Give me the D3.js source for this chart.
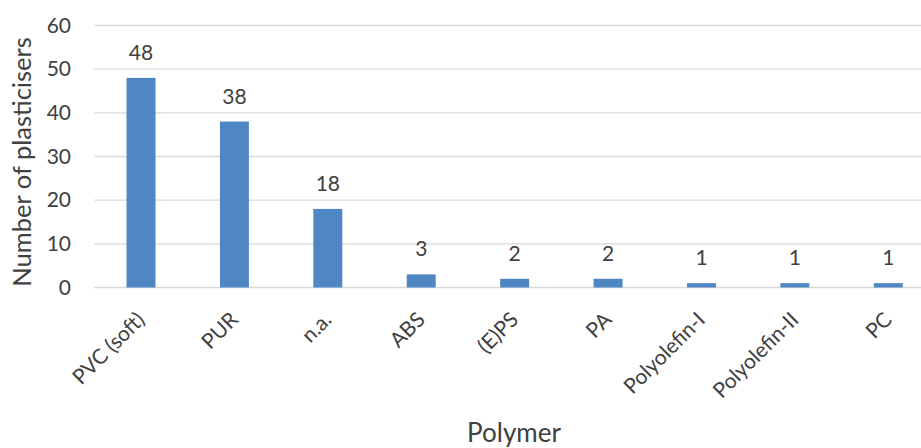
<!DOCTYPE html>
<html>
<head>
<meta charset="utf-8">
<script src="https://cdn.jsdelivr.net/npm/d3@7"></script>
<style>
	body { margin: 0; background: #fff; }
	svg text { font-family: Lato, "Open Sans", sans-serif; fill: #404040; }
</style>
</head>
<body>
<svg id="chart" width="921" height="448"></svg>
<script>
var polymers = ['PVC (soft)', 'PUR', 'n.a.', 'ABS', '(E)PS', 'PA', 'Polyolefin-I', 'Polyolefin-II', 'PC'];
var plasticisers = [48, 38, 18, 3, 2, 2, 1, 1, 1];
var yTicks = [0, 10, 20, 30, 40, 50, 60];

var svg = d3.select('#chart');

// plot area runs past the right edge of the picture (it is cropped there)
var x = d3.scaleBand()
	.domain(polymers)
	.range([94.3, 935])
	.paddingInner(0.69)
	.paddingOuter(0.345);

var y = d3.scaleLinear()
	.domain([0, 60])
	.range([287.5, 25.5]);

// gridlines
svg.append('g')
	.selectAll('line')
	.data(yTicks)
	.enter().append('line')
	.attr('x1', 94.3)
	.attr('x2', 935)
	.attr('y1', function(d){ return y(d); })
	.attr('y2', function(d){ return y(d); })
	.attr('stroke', '#d9d9d9')
	.attr('stroke-width', 1.3);

// y tick labels
var yAxis = svg.append('g')
	.attr('transform', 'translate(94,0)')
	.call(d3.axisLeft(y).tickValues(yTicks).tickSize(0).tickPadding(23));
yAxis.select('.domain').remove();
yAxis.selectAll('text')
	.style('font-size', '21px')
	.attr('fill', '#404040');

// bars
svg.append('g')
	.selectAll('rect')
	.data(plasticisers)
	.enter().append('rect')
	.attr('x', function(d, i){ return x(polymers[i]); })
	.attr('width', x.bandwidth())
	.attr('y', function(d){ return y(d); })
	.attr('height', function(d){ return y(0) - y(d); })
	.attr('fill', '#4F87C4');

// data labels
svg.append('g')
	.selectAll('text')
	.data(plasticisers)
	.enter().append('text')
	.attr('x', function(d, i){ return x(polymers[i]) + x.bandwidth() / 2; })
	.attr('y', function(d){ return y(d) - 18; })
	.attr('text-anchor', 'middle')
	.style('font-size', '21px')
	.text(function(d){ return d; });

// x tick labels, rotated
svg.append('g')
	.selectAll('text')
	.data(polymers)
	.enter().append('text')
	.attr('transform', function(d){
		return 'translate(' + (x(d) + x.bandwidth() / 2 + 5) + ',321) rotate(-45)';
	})
	.attr('text-anchor', 'end')
	.style('font-size', '21px')
	.text(function(d){ return d; });

// axis titles
svg.append('text')
	.attr('transform', 'translate(31,162) rotate(-90)')
	.attr('text-anchor', 'middle')
	.style('font-size', '25.5px')
	.text('Number of plasticisers');

svg.append('text')
	.attr('x', 514)
	.attr('y', 442)
	.attr('text-anchor', 'middle')
	.style('font-size', '26px')
	.text('Polymer');
</script>
</body>
</html>
